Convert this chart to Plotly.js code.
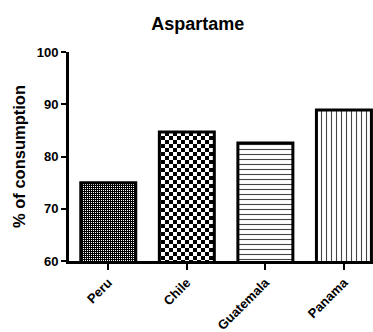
<!DOCTYPE html>
<html>
<head>
<meta charset="utf-8">
<script src="https://cdn.plot.ly/plotly-3.0.1.min.js"></script>
<style>html,body{margin:0;padding:0;background:#fff;}#chart{width:373px;height:332px;}</style>
</head>
<body>
<div id="chart"></div>
<script>
const categories = ["Peru", "Chile", "Guatemala", "Panama"];
const consumption = [75, 84.7, 82.6, 88.9];
const yTicks = [60, 70, 80, 90, 100];

const FONT = "Arial, 'Liberation Sans', sans-serif";

const trace = {
  type: "bar",
  x: categories,
  y: consumption,
  marker: {
    color: ["black", "black", "white", "white"],
    line: {color: "black", width: 3},
    pattern: {
      shape: [".", "x", "-", "|"],
      fillmode: "overlay",
      fgcolor: ["white", "white", "black", "black"],
      fgopacity: 1,
      size: [3, 9, 5, 5],
      solidity: [0.2, 0.18, 0.22, 0.22]
    }
  },
  hoverinfo: "skip"
};

const layout = {
  width: 373,
  height: 332,
  margin: {l: 69, r: 0, t: 52, b: 71},
  paper_bgcolor: "white",
  plot_bgcolor: "white",
  showlegend: false,
  bargap: 0.3,
  title: {
    text: "<b>Aspartame</b>",
    font: {family: FONT, size: 18, color: "black"},
    x: 0.53, xref: "container", xanchor: "center",
    y: 0.93, yref: "container", yanchor: "middle"
  },
  xaxis: {
    type: "category",
    range: [-0.5, 3.37],
    showline: true, linecolor: "black", linewidth: 3,
    ticks: "outside", ticklen: 6, tickwidth: 2, tickcolor: "black",
    tickangle: -45,
    tickfont: {family: FONT, size: 13, color: "black", weight: "bold"},
    showgrid: false, zeroline: false, fixedrange: true
  },
  yaxis: {
    range: [60, 100],
    tickvals: yTicks,
    ticktext: yTicks.map(v => String(v)),
    showline: true, linecolor: "black", linewidth: 3,
    ticks: "outside", ticklen: 5, tickwidth: 2, tickcolor: "black",
    tickfont: {family: FONT, size: 13, color: "black", weight: "bold"},
    showgrid: false, zeroline: false, fixedrange: true,
    title: {
      text: "<b>% of consumption</b>",
      font: {family: FONT, size: 16.5, color: "black"},
      standoff: 7
    }
  }
};

// texture tiles: [tile size, list of white squares [x, y, w, h]] on black
const textures = [
  [2, [[0, 0, 1, 1]]],
  [8, [[4, 0, 4, 4], [0, 4, 4, 4]]],
  null,
  null
];

function applyTextures(gd) {
  const NS = "http://www.w3.org/2000/svg";
  const paths = gd.querySelectorAll(".barlayer .point path");
  paths.forEach(function (p, i) {
    const t = textures[i];
    if (!t) return;
    const m = /#([^"')]+)/.exec(p.style.fill || "");
    if (!m) return;
    const pat = document.getElementById(m[1]);
    if (!pat) return;
    while (pat.firstChild) pat.removeChild(pat.firstChild);
    const s = t[0];
    pat.setAttribute("width", s);
    pat.setAttribute("height", s);
    pat.setAttribute("patternUnits", "userSpaceOnUse");
    pat.removeAttribute("patternTransform");
    const rects = [[0, 0, s, s, "black"]].concat(t[1].map(r => r.concat("white")));
    rects.forEach(function (r) {
      const el = document.createElementNS(NS, "rect");
      el.setAttribute("x", r[0]); el.setAttribute("y", r[1]);
      el.setAttribute("width", r[2]); el.setAttribute("height", r[3]);
      el.setAttribute("fill", r[4]);
      el.setAttribute("shape-rendering", "crispEdges");
      pat.appendChild(el);
    });
  });
}

Plotly.newPlot("chart", [trace], layout, {displayModeBar: false, staticPlot: true})
  .then(applyTextures);
</script>
</body>
</html>
